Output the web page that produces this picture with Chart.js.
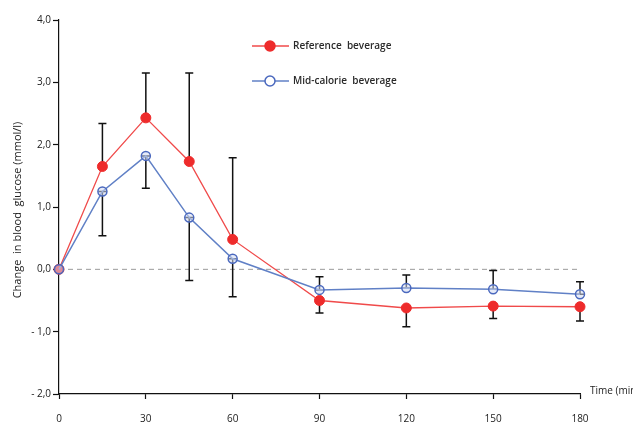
<!DOCTYPE html>
<html>
<head>
<meta charset="utf-8">
<script src="https://cdn.jsdelivr.net/npm/chart.js@4"></script>
<style>
html,body{margin:0;padding:0;background:#fff;}
#wrap{width:633px;height:422px;}
</style>
</head>
<body>
<div id="wrap"><canvas id="c" width="633" height="422"></canvas></div>
<script>
// ---- data ----
const times = [0, 15, 30, 45, 60, 90, 120, 150, 180];
const refValues = [0, 1.65, 2.43, 1.73, 0.48, -0.50, -0.62, -0.59, -0.60];
const midValues = [0, 1.25, 1.82, 0.83, 0.17, -0.33, -0.30, -0.32, -0.40];
const errUpper = [null, 2.34, 3.15, 3.15, 1.79, -0.12, -0.09, -0.02, -0.20];
const errLower = [null, 0.54, 1.30, -0.18, -0.44, -0.70, -0.92, -0.79, -0.83];
const xTicks = [0, 30, 60, 90, 120, 150, 180];
const yTicks = [-2, -1, 0, 1, 2, 3, 4];
const seriesNames = ['Reference  beverage', 'Mid-calorie  beverage'];
const yTitle = 'Change  in blood  glucose (mmol/l)';
const xTitle = 'Time (min)';

const FONT = '"Open Sans", "Liberation Sans", sans-serif';
const RED_LINE = '#F04A4A', RED_PT = '#EE2B2B';
const BLUE_LINE = '#6080C6', BLUE_PT = '#4A68BE', BLUE_FILL = 'rgba(210,218,242,0.55)';

function fmt(v){
  const s = Math.abs(v).toFixed(1).replace('.', ',');
  return v < 0 ? '- ' + s : s;
}

const extras = {
  id: 'extras',
  beforeDatasetsDraw(chart){
    const {ctx, scales:{x, y}, chartArea} = chart;
    ctx.save();
    // dashed zero line
    ctx.strokeStyle = '#9a9a9a';
    ctx.lineWidth = 1;
    ctx.setLineDash([5, 4]);
    ctx.beginPath();
    ctx.moveTo(chartArea.left, y.getPixelForValue(0));
    ctx.lineTo(chartArea.right, y.getPixelForValue(0));
    ctx.stroke();
    ctx.setLineDash([]);
    // error bars
    ctx.strokeStyle = '#111';
    ctx.lineWidth = 1.5;
    const cap = 4;
    function seg(px, v1, v2){
      const p1 = y.getPixelForValue(v1), p2 = y.getPixelForValue(v2);
      ctx.beginPath();
      ctx.moveTo(px, p1); ctx.lineTo(px, p2);
      ctx.moveTo(px - cap, p1); ctx.lineTo(px + cap, p1);
      ctx.moveTo(px - cap, p2); ctx.lineTo(px + cap, p2);
      ctx.stroke();
    }
    times.forEach((t, i) => {
      if (errUpper[i] == null) return;
      const px = x.getPixelForValue(t);
      const hi = Math.max(refValues[i], midValues[i]);
      const lo = Math.min(refValues[i], midValues[i]);
      seg(px, hi, errUpper[i]);
      seg(px, lo, errLower[i]);
    });
    ctx.restore();
  },
  afterDraw(chart){
    const {ctx, scales:{x, y}, chartArea} = chart;
    ctx.save();
    // y title
    ctx.fillStyle = '#222';
    ctx.font = '11px ' + FONT;
    ctx.textAlign = 'center';
    ctx.textBaseline = 'middle';
    ctx.translate(18, 210);
    ctx.rotate(-Math.PI / 2);
    ctx.fillText(yTitle, 0, 0);
    ctx.restore();
    ctx.save();
    // x title
    ctx.fillStyle = '#222';
    ctx.font = '10px ' + FONT;
    ctx.textAlign = 'left';
    ctx.textBaseline = 'middle';
    ctx.fillText(xTitle, chartArea.right + 10, chartArea.bottom - 3);
    // legend
    const items = [
      {name: seriesNames[0], line: RED_LINE, pt: RED_PT, fill: RED_PT, y: 46},
      {name: seriesNames[1], line: BLUE_LINE, pt: BLUE_PT, fill: '#fff', y: 81}
    ];
    items.forEach(it => {
      ctx.strokeStyle = it.line;
      ctx.lineWidth = 1.5;
      ctx.beginPath();
      ctx.moveTo(252, it.y); ctx.lineTo(289, it.y);
      ctx.stroke();
      ctx.beginPath();
      ctx.arc(270, it.y, 5, 0, Math.PI * 2);
      ctx.fillStyle = it.fill;
      ctx.fill();
      ctx.strokeStyle = it.pt;
      ctx.lineWidth = 1.5;
      ctx.stroke();
      ctx.fillStyle = '#2a2a2a';
      ctx.font = '600 10px ' + FONT;
      ctx.textAlign = 'left';
      ctx.textBaseline = 'middle';
      ctx.fillText(it.name, 293, it.y);
    });
    ctx.restore();
  }
};

new Chart(document.getElementById('c'), {
  type: 'line',
  data: {
    datasets: [
      {
        label: seriesNames[1],
        data: times.map((t, i) => ({x: t, y: midValues[i]})),
        borderColor: BLUE_LINE,
        borderWidth: 1.5,
        pointRadius: 4.5,
        pointBorderWidth: 1.5,
        pointBorderColor: BLUE_PT,
        pointBackgroundColor: BLUE_FILL,
        tension: 0,
        clip: false,
        order: 0
      },
      {
        label: seriesNames[0],
        data: times.map((t, i) => ({x: t, y: refValues[i]})),
        borderColor: RED_LINE,
        borderWidth: 1.3,
        pointRadius: 5,
        pointBorderWidth: 1,
        pointBorderColor: RED_PT,
        pointBackgroundColor: RED_PT,
        tension: 0,
        clip: false,
        order: 1
      }
    ]
  },
  options: {
    responsive: false,
    animation: false,
    events: [],
    layout: {padding: {top: 20, right: 53, left: 0, bottom: 0}},
    plugins: {legend: {display: false}, tooltip: {enabled: false}},
    scales: {
      x: {
        type: 'linear',
        min: 0, max: 180,
        afterBuildTicks(s){ s.ticks = xTicks.map(v => ({value: v})); },
        ticks: {padding: 14, color: '#222', font: {family: FONT, size: 10}, maxRotation: 0},
        grid: {drawOnChartArea: false, drawTicks: true, tickLength: 5, tickColor: '#111', tickWidth: 1.2},
        border: {color: '#111', width: 1.2},
        afterFit(s){ s.height = 28; }
      },
      y: {
        type: 'linear',
        min: -2, max: 4,
        afterBuildTicks(s){ s.ticks = yTicks.map(v => ({value: v})); },
        ticks: {padding: 2, color: '#222', font: {family: FONT, size: 10}, callback: v => fmt(v)},
        grid: {drawOnChartArea: false, drawTicks: true, tickLength: 6, tickColor: '#111', tickWidth: 1.2},
        border: {color: '#111', width: 1.2},
        afterFit(s){ s.width = 59; }
      }
    }
  },
  plugins: [extras]
});
</script>
</body>
</html>
